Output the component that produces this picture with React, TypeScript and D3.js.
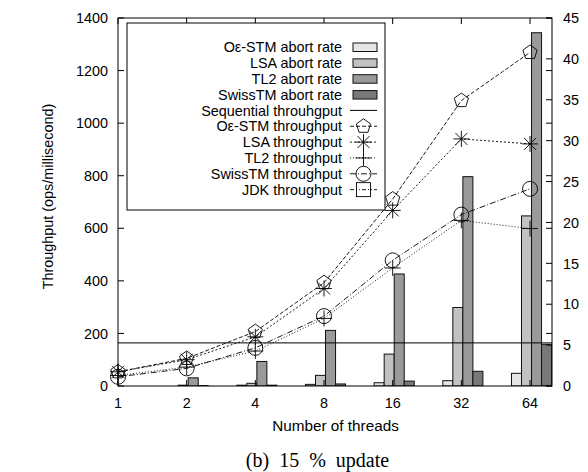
import React, { useEffect, useRef } from 'react';
import * as d3 from 'd3';

const threads = ['1', '2', '4', '8', '16', '32', '64'];

// throughput (ops/millisecond), left axis
const oeThroughput = [54, 105, 207, 393, 711, 1086, 1269];
const lsaThroughput = [54, 100, 187, 371, 668, 940, 921];
const tl2Throughput = [40, 72, 133, 257, 449, 630, 599];
const swissThroughput = [35, 67, 145, 266, 478, 652, 750];
const sequentialThroughput = 164;

// abort rate (%), right axis
const oeAbort = [0, 0, 0.1, 0.2, 0.4, 0.65, 1.55];
const lsaAbort = [0, 0.1, 0.33, 1.3, 3.9, 9.6, 20.8];
const tl2Abort = [0, 1.0, 3.0, 6.8, 13.7, 25.6, 43.2];
const swissAbort = [0, 0.05, 0.1, 0.25, 0.6, 1.8, 5.1];

const leftTicks = [0, 200, 400, 600, 800, 1000, 1200, 1400];
const rightTicks = [0, 5, 10, 15, 20, 25, 30, 35, 40, 45];

const barSeries = [
    { name: 'O\u03b5-STM abort rate', values: oeAbort, fill: '#e6e6e6' },
    { name: 'LSA abort rate', values: lsaAbort, fill: '#c2c2c2' },
    { name: 'TL2 abort rate', values: tl2Abort, fill: '#9a9a9a' },
    { name: 'SwissTM abort rate', values: swissAbort, fill: '#787878' },
];

const lineSeries = [
    { name: 'O\u03b5-STM throughput', values: oeThroughput, dash: '4,2', marker: 'pentagon' },
    { name: 'LSA throughput', values: lsaThroughput, dash: '2,2', marker: 'star' },
    { name: 'TL2 throughput', values: tl2Throughput, dash: '1,2', marker: 'plus' },
    { name: 'SwissTM throughput', values: swissThroughput, dash: '6,2,1,2', marker: 'circle' },
    { name: 'JDK throughput', values: [] as number[], dash: '4,2,1,2,1,2', marker: 'square' },
];

const drawMarker = (g: any, kind: string, cx: number, cy: number) => {
    const s = g.append('g').attr('transform', `translate(${cx},${cy})`)
        .attr('fill', 'none').attr('stroke', '#000').attr('stroke-width', 0.9);
    if (kind === 'pentagon') {
        const r = 7.5;
        const pts = d3.range(5).map(k => {
            const a = -Math.PI / 2 + k * 2 * Math.PI / 5;
            return [r * Math.cos(a), r * Math.sin(a)];
        });
        s.append('path').attr('d', 'M' + pts.map(p => p.join(',')).join('L') + 'Z');
    } else if (kind === 'star') {
        const r = 8;
        s.append('path').attr('d', `M${-r},0L${r},0M0,${-r}L0,${r}M${-r * 0.75},${-r * 0.75}L${r * 0.75},${r * 0.75}M${-r * 0.75},${r * 0.75}L${r * 0.75},${-r * 0.75}`);
    } else if (kind === 'plus') {
        const r = 8;
        s.append('path').attr('d', `M${-r},0L${r},0M0,${-r}L0,${r}`);
    } else if (kind === 'circle') {
        s.append('circle').attr('r', 7.5);
    } else if (kind === 'square') {
        s.append('rect').attr('x', -7).attr('y', -7).attr('width', 14).attr('height', 14);
    }
};

export default function App() {
    const svgRef = useRef<SVGSVGElement>(null);

    useEffect(() => {
        const svg = d3.select(svgRef.current);
        svg.selectAll('*').remove();

        const left = 118, right = 552, top = 18, bottom = 386;
        const font = 'Liberation Sans, Arial, sans-serif';
        const fs = '14.4px';

        const x = d3.scaleLinear().domain([0, 6.32]).range([left, right]);
        const y = d3.scaleLinear().domain([0, 1400]).range([bottom, top]);
        const y2 = d3.scaleLinear().domain([0, 45]).range([bottom, top]);

        svg.append('defs').append('clipPath').attr('id', 'plotclip')
            .append('rect').attr('x', left).attr('y', top).attr('width', right - left).attr('height', bottom - top);

        // bars
        const barW = x(0.146) - x(0);
        const bars = svg.append('g').attr('clip-path', 'url(#plotclip)');
        barSeries.forEach((s, k) => {
            bars.selectAll(null)
                .data(s.values)
                .enter()
                .append('rect')
                .attr('x', (d, i) => x(i - 0.27) + k * barW)
                .attr('y', d => y2(d))
                .attr('width', barW)
                .attr('height', d => bottom - y2(d))
                .attr('fill', s.fill)
                .attr('stroke', '#111')
                .attr('stroke-width', 1);
        });

        // sequential line
        svg.append('line')
            .attr('x1', left).attr('x2', right)
            .attr('y1', y(sequentialThroughput)).attr('y2', y(sequentialThroughput))
            .attr('stroke', '#000').attr('stroke-width', 1);

        // throughput lines
        const line = d3.line<number>().x((d, i) => x(i)).y(d => y(d));
        lineSeries.forEach(s => {
            if (!s.values.length) return;
            svg.append('path')
                .attr('d', line(s.values))
                .attr('fill', 'none')
                .attr('stroke', '#000')
                .attr('stroke-width', 0.9)
                .attr('stroke-dasharray', s.dash);
            s.values.forEach((d, i) => drawMarker(svg, s.marker, x(i), y(d)));
        });

        // frame
        svg.append('rect')
            .attr('x', left).attr('y', top).attr('width', right - left).attr('height', bottom - top)
            .attr('fill', 'none').attr('stroke', '#000').attr('stroke-width', 1);

        const axes = svg.append('g').attr('stroke', '#000').attr('stroke-width', 1);
        leftTicks.forEach(t => {
            axes.append('line').attr('x1', left).attr('x2', left + 6).attr('y1', y(t)).attr('y2', y(t));
            axes.append('line').attr('x1', right).attr('x2', right - 6).attr('y1', y(t)).attr('y2', y(t));
            svg.append('text').attr('x', left - 10).attr('y', y(t) + 5.2)
                .attr('text-anchor', 'end').style('font-family', font).style('font-size', fs).text(t);
        });
        rightTicks.forEach(t => {
            axes.append('line').attr('x1', right).attr('x2', right - 6).attr('y1', y2(t)).attr('y2', y2(t));
            svg.append('text').attr('x', right + 11).attr('y', y2(t) + 5.2)
                .attr('text-anchor', 'start').style('font-family', font).style('font-size', fs).text(t);
        });
        threads.forEach((t, i) => {
            axes.append('line').attr('x1', x(i)).attr('x2', x(i)).attr('y1', bottom).attr('y2', bottom - 6);
            axes.append('line').attr('x1', x(i)).attr('x2', x(i)).attr('y1', top).attr('y2', top + 6);
            svg.append('text').attr('x', x(i)).attr('y', bottom + 22)
                .attr('text-anchor', 'middle').style('font-family', font).style('font-size', fs).text(t);
        });

        svg.append('text').attr('x', 335.5).attr('y', 431).attr('text-anchor', 'middle')
            .style('font-family', font).style('font-size', '15.3px').text('Number of threads');
        svg.append('text').attr('transform', 'translate(52.5,196.5) rotate(-90)').attr('text-anchor', 'middle')
            .style('font-family', font).style('font-size', fs).text('Throughput (ops/millisecond)');
        svg.append('text').attr('x', 317.5).attr('y', 467).attr('text-anchor', 'middle')
            .style('font-family', 'Liberation Serif, Times New Roman, serif').style('font-size', '20px')
            .style('word-spacing', '5px').text('(b) 15 % update');

        // legend
        const lg = svg.append('g');
        lg.append('rect').attr('x', 127).attr('y', 23).attr('width', 258).attr('height', 187)
            .attr('fill', '#fff').attr('stroke', '#000').attr('stroke-width', 1);
        const rowY = (i: number) => 47 + i * 15.85;
        const entries = [
            ...barSeries.map(s => ({ name: s.name, type: 'bar', s })),
            { name: 'Sequential throuhgput', type: 'seq', s: null as any },
            ...lineSeries.map(s => ({ name: s.name, type: 'line', s })),
        ];
        entries.forEach((e, i) => {
            const cy = rowY(i);
            lg.append('text').attr('x', 342).attr('y', cy + 5.2).attr('text-anchor', 'end')
                .style('font-family', font).style('font-size', fs).text(e.name);
            if (e.type === 'bar') {
                lg.append('rect').attr('x', 353).attr('y', cy - 4).attr('width', 24).attr('height', 8.5)
                    .attr('fill', e.s.fill).attr('stroke', '#111');
            } else if (e.type === 'seq') {
                lg.append('line').attr('x1', 350).attr('x2', 377).attr('y1', cy).attr('y2', cy)
                    .attr('stroke', '#000');
            } else {
                lg.append('line').attr('x1', 350).attr('x2', 377).attr('y1', cy).attr('y2', cy)
                    .attr('stroke', '#000').attr('stroke-width', 0.9).attr('stroke-dasharray', e.s.dash);
                drawMarker(lg, e.s.marker, 363.5, cy);
            }
        });
    }, []);

    return (
        <svg ref={svgRef} width={588} height={472}
            style={{ position: 'absolute', left: 0, top: 0, background: '#fff' }} />
    );
}
